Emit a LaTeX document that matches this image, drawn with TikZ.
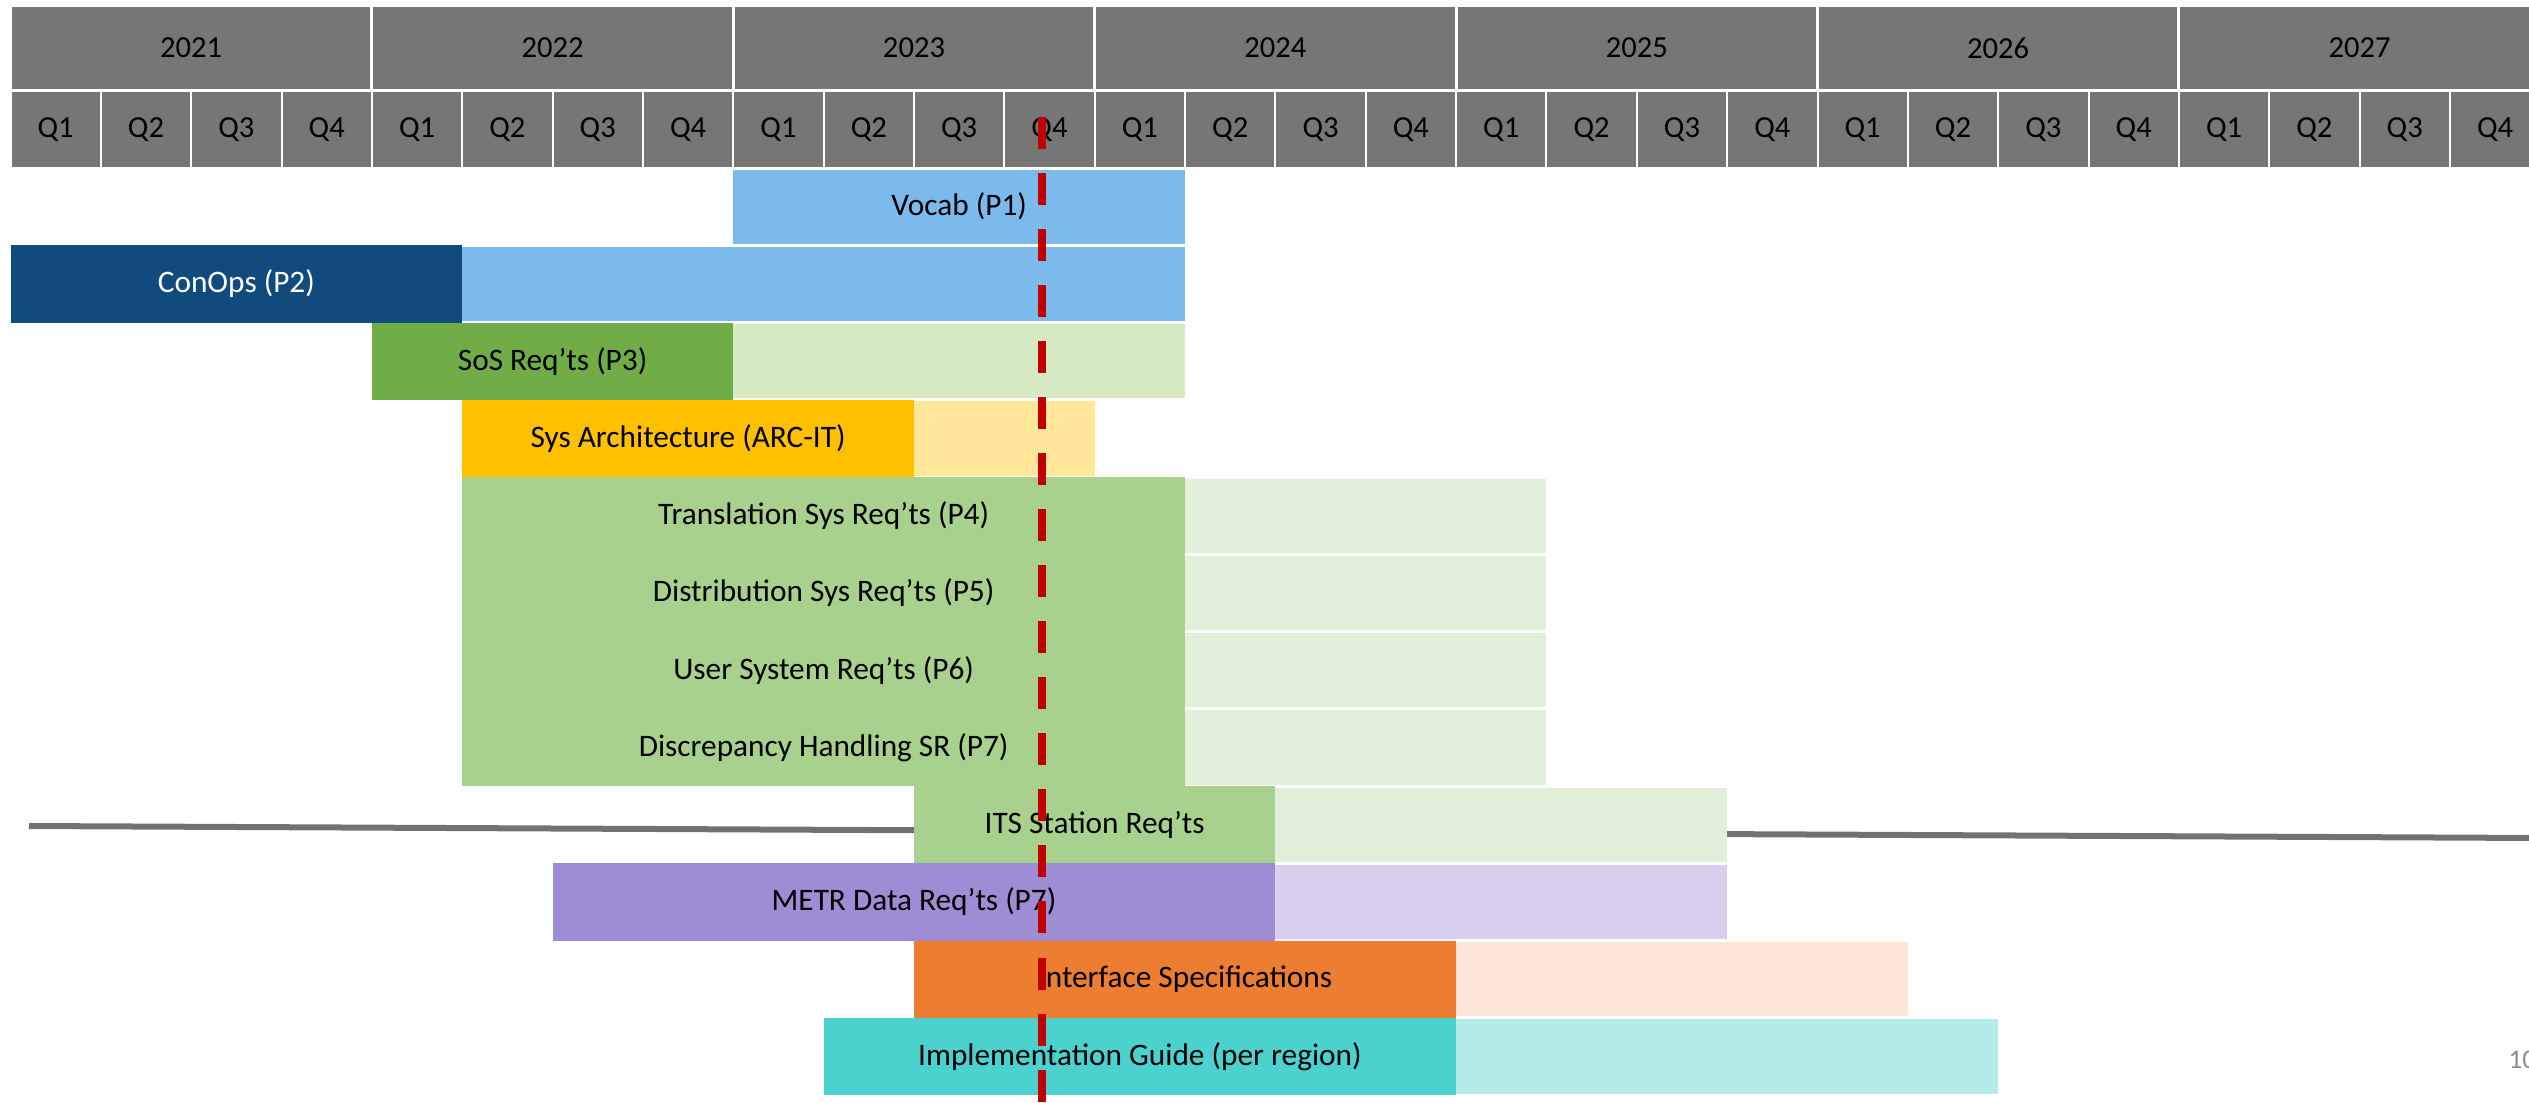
\documentclass[tikz,border=0pt]{standalone}
\usepackage{fontspec}
\setmainfont{Carlito}

\definecolor{hdrgray}{RGB}{118,118,118}
\definecolor{navy}{RGB}{17,75,125}
\definecolor{skyblue}{RGB}{124,186,236}
\definecolor{leaf}{RGB}{112,173,71}
\definecolor{leaflight}{RGB}{213,234,195}
\definecolor{amber}{RGB}{255,192,0}
\definecolor{amberlight}{RGB}{255,230,153}
\definecolor{sage}{RGB}{169,209,142}
\definecolor{sagelight}{RGB}{226,239,218}
\definecolor{lilac}{RGB}{158,141,212}
\definecolor{lilaclight}{RGB}{216,208,238}
\definecolor{tangerine}{RGB}{237,125,49}
\definecolor{tangerinelight}{RGB}{251,229,214}
\definecolor{aqua}{RGB}{75,209,206}
\definecolor{aqualight}{RGB}{180,236,233}
\definecolor{nowred}{RGB}{192,0,0}
\definecolor{rulegray}{RGB}{118,113,113}
\definecolor{pagegray}{RGB}{140,140,140}

\begin{document}
\begin{tikzpicture}[x=0.01cm, y=-0.01cm,
    hdrtext/.style={font=\fontsize{8.7}{10}\selectfont, text=black},
    bartext/.style={font=\fontsize{8.9}{10}\selectfont, text=black}]

\useasboundingbox (0,0) rectangle (2529,1103);

% Grid: one quarter is \qw wide, one row is \rh high
\def\xo{10.5}
\def\qw{90.35}
\def\yo{168}
\def\rh{77.25}
\def\gp{1.5}

% Year and quarter header
\foreach \yr [count=\i from 0] in {2021,...,2027} {
    \fill[hdrgray] ({\xo+4*\i*\qw+1.5}, 7) rectangle ({\xo+4*(\i+1)*\qw-1.5}, 89);
    \node[hdrtext] (y\yr) at ({\xo+(4*\i+2)*\qw}, 48) {\yr};
    \foreach \q in {1,...,4} {
        \fill[hdrgray] ({\xo+(4*\i+\q-1)*\qw+1}, 92) rectangle ({\xo+(4*\i+\q)*\qw-1}, 167);
        \node[hdrtext] (q\yr\q) at ({\xo+(4*\i+\q-0.5)*\qw}, 129.5) {Q\q};
    }
}

% Grey rule behind the lower bars
\coordinate (ruleL) at (29,826);
\coordinate (ruleR) at (2540,838);
\draw[rulegray, line width=0.06cm] (ruleL) -- (ruleR);

% Vocab (P1)
\fill[skyblue] ({\xo+8*\qw}, {\yo+\gp}) rectangle ({\xo+13*\qw}, {\yo+\rh-\gp});
\node[bartext] (vocab) at ({\xo+10.5*\qw}, {\yo+0.5*\rh}) {Vocab (P1)};

% Translation block: one dark block, four light rows
\fill[sage] ({\xo+5*\qw}, {\yo+4*\rh}) rectangle ({\xo+13*\qw}, {\yo+8*\rh});
\foreach \nm/\txt [count=\r from 4] in {trans/Translation Sys Req’ts (P4),
        dist/Distribution Sys Req’ts (P5), user/User System Req’ts (P6),
        disc/Discrepancy Handling SR (P7)} {
    \fill[sagelight] ({\xo+13*\qw}, {\yo+\r*\rh+\gp}) rectangle ({\xo+17*\qw}, {\yo+(\r+1)*\rh-\gp});
    \node[bartext] (\nm) at ({\xo+9*\qw}, {\yo+(\r+0.5)*\rh}) {\txt};
}

% Bars: name/row/start/split/end/dark/light/text colour/label
\foreach \nm/\r/\a/\b/\c/\dk/\lt/\tc/\txt in {
        conops/1/0/5/13/navy/skyblue/white/ConOps (P2),
        sos/2/4/8/13/leaf/leaflight/black/SoS Req’ts (P3),
        arch/3/5/10/12/amber/amberlight/black/Sys Architecture (ARC-IT),
        its/8/10/14/19/sage/sagelight/black/ITS Station Req’ts,
        metr/9/6/14/19/lilac/lilaclight/black/METR Data Req’ts (P7),
        iface/10/10/16/21/tangerine/tangerinelight/black/Interface Specifications,
        guide/11/9/16/22/aqua/aqualight/black/Implementation Guide (per region)} {
    \fill[\lt] ({\xo+\b*\qw}, {\yo+\r*\rh+\gp}) rectangle ({\xo+\c*\qw}, {\yo+(\r+1)*\rh-\gp});
    \fill[\dk] ({\xo+\a*\qw}, {\yo+\r*\rh}) rectangle ({\xo+\b*\qw}, {\yo+(\r+1)*\rh});
    \node[bartext, text=\tc] (\nm) at ({\xo+(\a+\b)/2*\qw}, {\yo+(\r+0.5)*\rh}) {\txt};
}

% Today marker
\coordinate (nowtop) at (1042,117);
\coordinate (nowbot) at (1042,1110);
\draw[nowred, line width=0.075cm, dash pattern=on 0.32cm off 0.24cm] (nowtop) -- (nowbot);

% Page number
\node[anchor=base west, inner sep=0, text=pagegray, font=\fontsize{7.7}{9}\selectfont] (pageno) at (2508,1068) {10};

\end{tikzpicture}
\end{document}
